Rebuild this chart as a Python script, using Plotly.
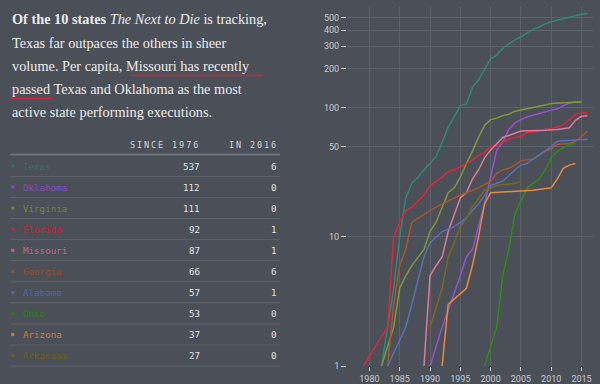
import math
import plotly.graph_objects as go

# ---------------- data ----------------
states = ["Texas", "Oklahoma", "Virginia", "Florida", "Missouri",
          "Georgia", "Alabama", "Ohio", "Arizona", "Arkansas"]
since_1976 = [537, 112, 111, 92, 87, 66, 57, 53, 37, 27]
in_2016 = [6, 0, 0, 1, 1, 6, 1, 0, 0, 0]
colors = ["#2e8a78", "#9b4fd6", "#7f9a3a", "#e3243b", "#e2789c",
          "#a8582a", "#5b70b5", "#2f8c14", "#ea8a35", "#7b6a1c"]
table_colors = ["#2a7468", "#8a4cc0", "#6f8a36", "#c8243a", "#c66a8b",
                "#94502a", "#5466a3", "#2e7c16", "#d07f36", "#6e611e"]

# cumulative executions (years without executions are omitted)
texas_years = [1982, 1984, 1985, 1986, 1987, 1988, 1989, 1990, 1991, 1992, 1993, 1994,
               1995, 1996, 1997, 1998, 1999, 2000, 2001, 2002, 2003, 2004, 2005, 2006,
               2007, 2008, 2009, 2010, 2011, 2012, 2013, 2014, 2015, 2016]
texas_total = [1, 4, 10, 20, 26, 29, 33, 37, 42, 54, 71, 85,
               104, 107, 144, 164, 199, 239, 256, 289, 313, 336, 355, 379,
               405, 423, 447, 464, 477, 492, 508, 518, 531, 537]

oklahoma_years = [1990, 1992, 1995, 1996, 1997, 1998, 1999, 2000, 2001, 2002, 2003, 2004,
                  2005, 2006, 2007, 2008, 2009, 2010, 2011, 2012, 2013, 2014, 2015]
oklahoma_total = [1, 2, 5, 7, 8, 12, 18, 29, 47, 54, 68, 76,
                  81, 85, 88, 90, 93, 96, 98, 104, 109, 111, 112]

virginia_years = [1982, 1984, 1985, 1986, 1987, 1988, 1989, 1990, 1991, 1992, 1993, 1994,
                  1995, 1996, 1997, 1998, 1999, 2000, 2001, 2002, 2003, 2004, 2006, 2008,
                  2009, 2010, 2011, 2013, 2015]
virginia_total = [1, 2, 4, 5, 6, 7, 8, 11, 13, 17, 22, 24,
                  29, 37, 46, 59, 73, 81, 83, 87, 89, 94, 98, 102,
                  105, 108, 109, 110, 111]

florida_years = [1979, 1983, 1984, 1985, 1986, 1987, 1988, 1989, 1990, 1991, 1992, 1993,
                 1994, 1995, 1996, 1997, 1998, 1999, 2000, 2001, 2002, 2003, 2004, 2005,
                 2006, 2008, 2009, 2010, 2011, 2012, 2013, 2014, 2015, 2016]
florida_total = [1, 2, 10, 13, 16, 17, 19, 21, 25, 27, 29, 32,
                 33, 35, 37, 39, 43, 45, 50, 51, 54, 57, 59, 60,
                 64, 66, 68, 69, 71, 74, 81, 89, 91, 92]

missouri_years = [1989, 1990, 1991, 1992, 1993, 1994, 1995, 1996, 1997, 1998, 1999, 2000,
                  2001, 2002, 2003, 2005, 2009, 2011, 2013, 2014, 2015, 2016]
missouri_total = [1, 5, 6, 7, 11, 15, 20, 22, 28, 33, 41, 47,
                  53, 59, 61, 66, 67, 68, 70, 80, 86, 87]

georgia_years = [1983, 1984, 1985, 1986, 1987, 1988, 1989, 1990, 1991, 1992, 1993, 1995,
                 1996, 1997, 1998, 2000, 2001, 2002, 2003, 2004, 2005, 2007, 2008, 2009,
                 2010, 2011, 2013, 2014, 2015, 2016]
georgia_total = [1, 3, 6, 8, 13, 14, 15, 16, 17, 18, 19, 21,
                 22, 23, 24, 27, 31, 33, 34, 36, 39, 40, 43, 46,
                 48, 52, 53, 55, 60, 66]

alabama_years = [1983, 1986, 1987, 1989, 1990, 1991, 1992, 1994, 1995, 1996, 1997, 1998,
                 1999, 2000, 2002, 2003, 2004, 2005, 2006, 2007, 2009, 2010, 2011, 2013, 2016]
alabama_total = [1, 2, 3, 7, 9, 10, 11, 12, 13, 14, 16, 18,
                 21, 25, 27, 30, 33, 36, 37, 40, 46, 50, 55, 56, 57]

ohio_years = [1999, 2001, 2002, 2003, 2004, 2005, 2006, 2007, 2008, 2009, 2010, 2011,
              2012, 2013, 2014]
ohio_total = [1, 2, 5, 8, 15, 19, 24, 26, 28, 33, 41, 46,
              49, 52, 53]

arizona_years = [1992, 1993, 1996, 1997, 1998, 1999, 2000, 2007, 2010, 2011, 2012, 2013, 2014]
arizona_total = [1, 3, 4, 6, 10, 18, 22, 23, 24, 28, 34, 36, 37]

arkansas_years = [1990, 1992, 1993, 1994, 1995, 1996, 1997, 1998, 1999, 2000, 2001, 2004, 2005]
arkansas_total = [2, 4, 7, 9, 12, 14, 17, 20, 23, 24, 25, 26, 27]

series_years = [texas_years, oklahoma_years, virginia_years, florida_years, missouri_years,
                georgia_years, alabama_years, ohio_years, arizona_years, arkansas_years]
series_total = [texas_total, oklahoma_total, virginia_total, florida_total, missouri_total,
                georgia_total, alabama_total, ohio_total, arizona_total, arkansas_total]

x_ticks = [1980, 1985, 1990, 1995, 2000, 2005, 2010, 2015]
y_ticks = [1, 10, 50, 100, 200, 300, 400, 500]
y_tick_labels = ["1", "10", "50", "100", "200", "300", "400", "500"]

table_head = ["SINCE 1976", "IN 2016"]

# ---------------- style ----------------
W, H = 600, 384
BG = "#4a4f58"
GRID = "#5c616a"
TXT = "#ededed"
TICK = "#c9ccd1"


def px(x):
    return x / W


def py(y):
    return 1 - y / H


fig = go.Figure()

for name, yrs, tot, col in zip(states, series_years, series_total, colors):
    fig.add_trace(go.Scatter(x=yrs, y=tot, mode="lines", name=name,
                             line=dict(color=col, width=1.5), hoverinfo="skip"))

annotations = []
shapes = []

# intro paragraph
intro_lines = [
    "<b>Of the 10 states</b> <i>The Next to Die</i> is tracking,",
    "Texas far outpaces the others in sheer",
    "volume. Per capita, Missouri has recently",
    "passed Texas and Oklahoma as the most",
    "active state performing executions.",
]
intro_y = [19, 43, 66, 89.5, 112]
for t, yy in zip(intro_lines, intro_y):
    annotations.append(dict(text=t, x=px(10), y=py(yy), xref="paper", yref="paper",
                            xanchor="left", yanchor="middle", showarrow=False,
                            font=dict(family="Liberation Serif", size=14.3, color=TXT)))
# red underlines
shapes.append(dict(type="line", xref="paper", yref="paper", x0=px(131), x1=px(263),
                   y0=py(75.5), y1=py(75.5), line=dict(color="#d0243a", width=1.5)))
shapes.append(dict(type="line", xref="paper", yref="paper", x0=px(10), x1=px(52.5),
                   y0=py(98.5), y1=py(98.5), line=dict(color="#d0243a", width=1.5)))

# table
MONO = "DejaVu Sans Mono"
annotations.append(dict(text='<span style="letter-spacing:1.9px">%s</span>' % table_head[0],
                        x=px(201.5), y=py(145), xref="paper", yref="paper",
                        xanchor="right", yanchor="middle", showarrow=False,
                        font=dict(family=MONO, size=8.5, color="#d5d7da")))
annotations.append(dict(text='<span style="letter-spacing:1.9px">%s</span>' % table_head[1],
                        x=px(280), y=py(145), xref="paper", yref="paper",
                        xanchor="right", yanchor="middle", showarrow=False,
                        font=dict(family=MONO, size=8.5, color="#d5d7da")))
shapes.append(dict(type="line", xref="paper", yref="paper", x0=px(10), x1=px(280),
                   y0=py(154.5), y1=py(154.5), line=dict(color="#6b7079", width=2)))

for i, (name, tot, cur, col) in enumerate(zip(states, since_1976, in_2016, table_colors)):
    ry = 166 + i * 21.08
    shapes.append(dict(type="rect", xref="paper", yref="paper",
                       x0=px(11.3), x1=px(14.3), y0=py(ry - 1.5), y1=py(ry + 1.5),
                       fillcolor=col, line=dict(width=0)))
    annotations.append(dict(text=name, x=px(20.5), y=py(ry), xref="paper", yref="paper",
                            xanchor="left", yanchor="middle", showarrow=False,
                            font=dict(family=MONO, size=9.2, color=col)))
    annotations.append(dict(text=str(tot), x=px(201.5), y=py(ry), xref="paper", yref="paper",
                            xanchor="right", yanchor="middle", showarrow=False,
                            font=dict(family=MONO, size=9.2, color="#e4e5e7")))
    annotations.append(dict(text=str(cur), x=px(279), y=py(ry), xref="paper", yref="paper",
                            xanchor="right", yanchor="middle", showarrow=False,
                            font=dict(family=MONO, size=9.2, color="#e4e5e7")))
    shapes.append(dict(type="line", xref="paper", yref="paper", x0=px(10), x1=px(280),
                       y0=py(ry + 10.4), y1=py(ry + 10.4),
                       line=dict(color="#5d626b", width=1)))

fig.update_layout(
    template="none",
    width=W, height=H,
    margin=dict(l=0, r=0, t=0, b=0),
    paper_bgcolor=BG, plot_bgcolor=BG,
    showlegend=False,
    annotations=annotations,
    shapes=shapes,
    xaxis=dict(domain=[px(347), px(593)], range=[1976.3, 2016.9],
               tickvals=x_ticks, ticktext=[str(v) for v in x_ticks],
               ticks="outside", ticklen=4, tickcolor=TICK, tickwidth=1,
               showgrid=True, gridcolor=GRID, gridwidth=1,
               zeroline=False, showline=False, automargin=False,
               tickfont=dict(family="Roboto", size=9, color=TICK)),
    yaxis=dict(domain=[py(366), py(7)], type="log", range=[0, 2.781],
               tickvals=y_ticks, ticktext=y_tick_labels,
               ticks="outside", ticklen=5, tickcolor=TICK, tickwidth=1,
               showgrid=True, gridcolor=GRID, gridwidth=1,
               zeroline=False, showline=False, automargin=False,
               tickfont=dict(family="Roboto", size=9, color=TICK)),
)

fig.write_html("out.html", config={"displayModeBar": False},
               post_script="document.body.style.margin='0';"
                           "document.body.style.background='%s';" % BG)
